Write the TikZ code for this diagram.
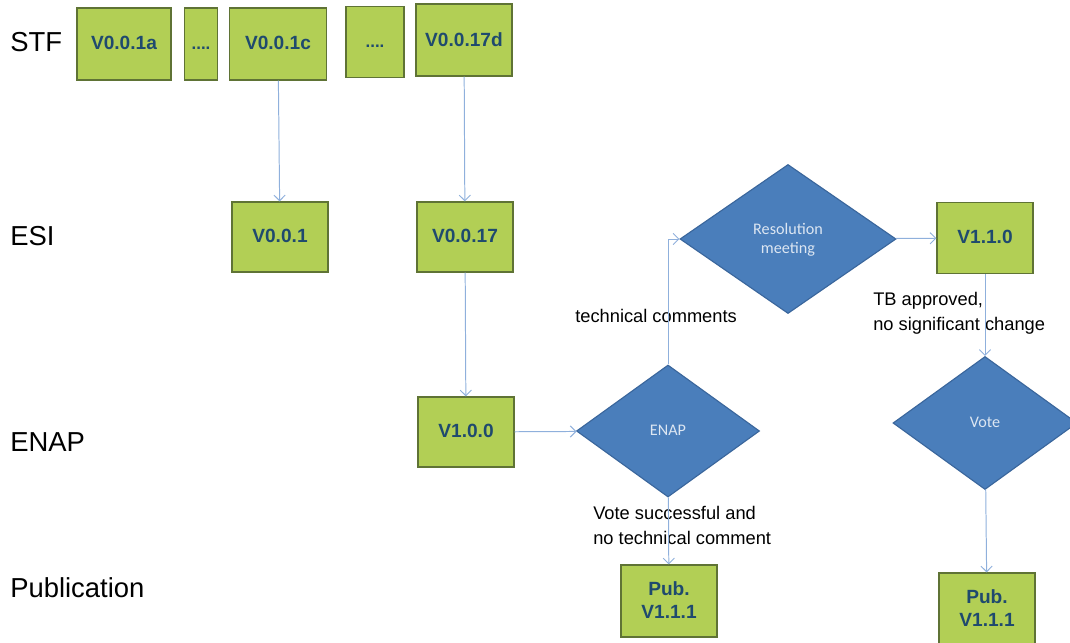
\documentclass[tikz,border=0pt]{standalone}
\usepackage{fontspec}
\setmainfont{Liberation Sans}
\newfontfamily\calibri{Carlito}
\usetikzlibrary{shapes.geometric}
\usetikzlibrary{arrows.meta}
\definecolor{boxgreen}{HTML}{B2CF55}
\definecolor{boxedge}{HTML}{5F7335}
\definecolor{boxtext}{HTML}{1F4A6E}
\definecolor{diafill}{HTML}{4A7EBB}
\definecolor{diaedge}{HTML}{3A669C}
\definecolor{diatext}{HTML}{DCE6F2}
\definecolor{flowblue}{HTML}{8FB0DC}

\begin{document}
\begin{tikzpicture}[x=0.025cm,y=-0.025cm,text depth=1pt]
\tikzstyle{version}=[rectangle,fill=boxgreen,draw=boxedge,line width=0.8pt,minimum width=2.4cm,minimum height=1.8cm,inner sep=0pt,align=center,text=boxtext,font=\fontsize{13.6}{16.5}\selectfont\bfseries]
\tikzstyle{decision}=[diamond,fill=diafill,draw=diaedge,line width=0.8pt,inner sep=0pt,align=center,text=diatext,font=\calibri\fontsize{11.5}{14}\selectfont]
\tikzstyle{flow}=[draw=flowblue,line width=0.7pt,-{Straight Barb[length=4pt,width=8pt]}]
\tikzstyle{stage}=[anchor=west,inner sep=0pt,font=\fontsize{19.5}{23}\selectfont]
\tikzstyle{remark}=[anchor=west,inner sep=0pt,align=left,font=\fontsize{13}{17.5}\selectfont]
\useasboundingbox (0,0) rectangle (1070,643);
\node[stage] (stf) at (10,43) {STF};
\node[stage] (esi) at (10,237) {ESI};
\node[stage] (enapstage) at (10,443) {ENAP};
\node[stage] (pubstage) at (10,588) {Publication};
\node[version,minimum width=2.35cm] (s1a) at (124,44) {V0.0.1a};
\node[version,minimum width=0.825cm,font=\fontsize{12}{14}\selectfont\bfseries] (dots1) at (201,44) {\vphantom{V}....};
\node[version,minimum width=2.425cm] (s1c) at (278,44) {V0.0.1c};
\node[version,minimum width=1.45cm,minimum height=1.775cm,font=\fontsize{12}{14}\selectfont\bfseries] (dots2) at (375,42) {\vphantom{V}....};
\node[version] (s17d) at (464,40) {V0.0.17d};
\node[version,minimum height=1.75cm] (e1) at (280,237) {V0.0.1};
\node[version,minimum height=1.75cm] (e17) at (465,237) {V0.0.17};
\node[version,minimum height=1.75cm] (v100) at (466,432) {V1.0.0};
\node[decision,minimum width=4.575cm,minimum height=3.3cm] (enap) at (668,431) {ENAP};
\node[decision,minimum width=5.4cm,minimum height=3.725cm] (res) at (788,239) {Resolution\\meeting};
\node[version,minimum height=1.775cm] (v110) at (985,238) {V1.1.0};
\node[decision,minimum width=4.6cm,minimum height=3.325cm] (vote) at (985,423) {Vote};
\node[version] (pub1) at (669,601) {Pub.\\V1.1.1};
\node[version] (pub2) at (987,609) {Pub.\\V1.1.1};
\node[remark] (techcom) at (575,317) {technical comments};
\node[remark] (tbok) at (873,312) {TB approved,\\no significant change};
\node[remark] (voteok) at (593,526) {Vote successful and\\no technical comment};
\draw[flow] (s1c) -- (e1);
\draw[flow] (s17d) -- (e17);
\draw[flow] (e17) -- (v100);
\draw[flow] (v100) -- (enap);
\draw[flow] (enap.north) |- (res.west);
\draw[flow] (res) -- (v110);
\draw[flow] (v110) -- (vote);
\draw[flow] (enap) -- (pub1);
\draw[flow] (vote) -- (pub2);
\end{tikzpicture}
\end{document}
